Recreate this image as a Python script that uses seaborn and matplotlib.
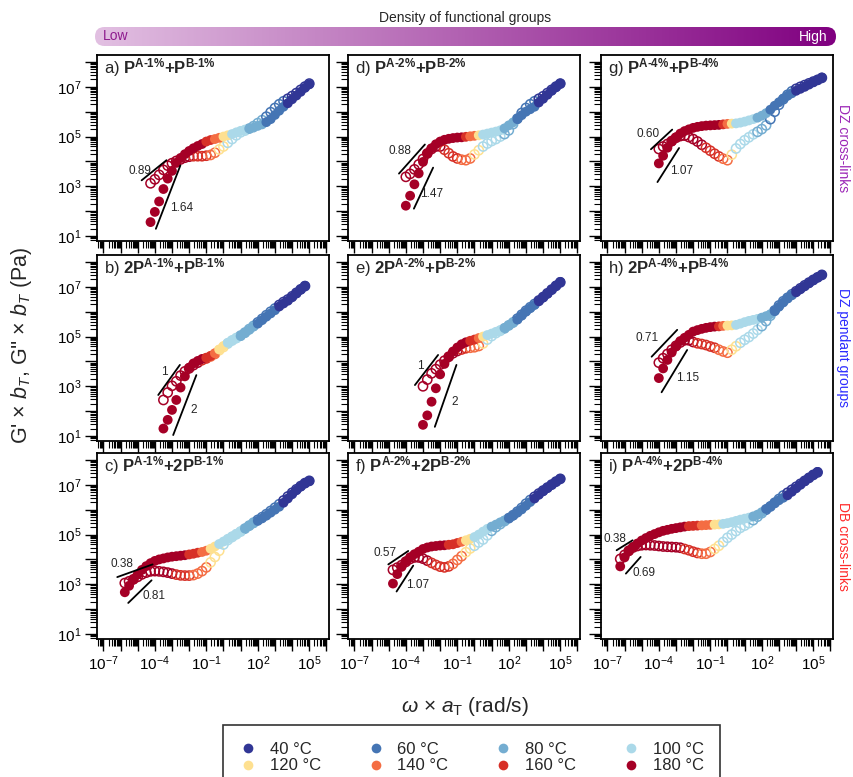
import numpy as np
import pandas as pd
import matplotlib
matplotlib.use("Agg")
import matplotlib.pyplot as plt
import seaborn as sns
from matplotlib.ticker import LogLocator, FuncFormatter, NullFormatter
from matplotlib.colors import LinearSegmentedColormap
from matplotlib.patches import FancyBboxPatch
from matplotlib.lines import Line2D

# ---------------- data ----------------
TEMPS = [40, 60, 80, 100, 120, 140, 160, 180]
TEMP_COLORS = ["#313695", "#4575b4", "#74add1", "#abd9e9",
               "#fee090", "#f46d43", "#d73027", "#a50026"]

# log10 of reduced angular frequency (rad/s) on which points are read
LOG_W = [-6.25, -6.0, -5.75, -5.5, -5.25, -5.0, -4.75, -4.5, -4.25, -4.0,
         -3.75, -3.5, -3.25, -3.0, -2.75, -2.5, -2.25, -2.0, -1.75, -1.5,
         -1.25, -1.0, -0.75, -0.5, -0.25, 0.0, 0.25, 0.5, 0.75, 1.0,
         1.25, 1.5, 1.75, 2.0, 2.25, 2.5, 2.75, 3.0, 3.25, 3.5,
         3.75, 4.0, 4.25, 4.5, 4.75, 5.0, 5.25, 5.5]

# first log10(omega) of each panel
START = {"a": -4.25, "b": -3.5, "c": -5.75, "d": -4.0, "e": -3.0,
         "f": -4.75, "g": -4.0, "h": -4.0, "i": -6.25}

# log10 G' (storage) and G'' (loss) per panel
GP_A = [1.56, 1.97, 2.39, 2.89, 3.31, 3.62, 3.94, 4.14, 4.29, 4.42,
        4.53, 4.62, 4.70, 4.80, 4.86, 4.90, 4.95, 5.00, 5.05, 5.10,
        5.17, 5.23, 5.28, 5.32, 5.36, 5.43, 5.49, 5.58, 5.70, 5.87,
        6.04, 6.20, 6.34, 6.50, 6.65, 6.80, 6.96, 7.10]
GPP_A = [3.12, 3.28, 3.46, 3.66, 3.83, 3.93, 4.02, 4.08, 4.15, 4.19,
         4.21, 4.21, 4.21, 4.23, 4.26, 4.35, 4.48, 4.60, 4.75, 4.90,
         5.05, 5.17, 5.24, 5.32, 5.42, 5.54, 5.66, 5.80, 5.98, 6.15,
         6.30, 6.42, 6.52, 6.63, 6.75, 6.88, 7.01, 7.13]
GP_B = [1.30, 1.65, 2.05, 2.45, 2.95, 3.40, 3.75, 3.92, 4.02, 4.10,
        4.15, 4.22, 4.33, 4.48, 4.62, 4.75, 4.85, 4.93, 5.02, 5.14,
        5.27, 5.40, 5.52, 5.66, 5.80, 5.93, 6.06, 6.21, 6.33, 6.44,
        6.58, 6.73, 6.89, 7.04]
GPP_B = [2.45, 2.75, 3.02, 3.20, 3.43, 3.60, 3.72, 3.85, 3.95, 4.05,
         4.12, 4.20, 4.30, 4.45, 4.58, 4.72, 4.84, 4.94, 5.04, 5.16,
         5.30, 5.43, 5.57, 5.71, 5.86, 6.00, 6.13, 6.27, 6.39, 6.49,
         6.62, 6.76, 6.90, 7.03]
GP_C = [2.68, 2.94, 3.19, 3.40, 3.58, 3.73, 3.85, 3.94, 4.00, 4.04,
        4.08, 4.11, 4.13, 4.15, 4.17, 4.20, 4.23, 4.27, 4.30, 4.35,
        4.43, 4.52, 4.62, 4.72, 4.83, 4.93, 5.03, 5.13, 5.24, 5.35,
        5.45, 5.55, 5.65, 5.76, 5.88, 6.00, 6.12, 6.28, 6.45, 6.62,
        6.78, 6.93, 7.06, 7.15]
GPP_C = [3.05, 3.12, 3.20, 3.30, 3.40, 3.47, 3.52, 3.53, 3.52, 3.50,
         3.47, 3.43, 3.39, 3.36, 3.35, 3.35, 3.37, 3.43, 3.53, 3.68,
         3.88, 4.10, 4.35, 4.60, 4.78, 4.90, 5.01, 5.12, 5.24, 5.36,
         5.48, 5.59, 5.70, 5.82, 5.95, 6.08, 6.22, 6.37, 6.53, 6.68,
         6.82, 6.95, 7.07, 7.16]
GP_D = [2.22, 2.62, 3.08, 3.52, 3.98, 4.32, 4.53, 4.69, 4.80, 4.87,
        4.91, 4.94, 4.96, 4.97, 4.99, 5.01, 5.03, 5.05, 5.08, 5.12,
        5.16, 5.20, 5.25, 5.33, 5.45, 5.57, 5.70, 5.86, 6.00, 6.10,
        6.20, 6.37, 6.52, 6.68, 6.84, 6.98, 7.13]
GPP_D = [3.38, 3.50, 3.68, 3.88, 4.10, 4.32, 4.50, 4.60, 4.60, 4.47,
         4.33, 4.20, 4.12, 4.07, 4.05, 4.12, 4.28, 4.45, 4.60, 4.72,
         4.82, 4.90, 5.00, 5.10, 5.25, 5.50, 5.72, 5.95, 6.15, 6.30,
         6.42, 6.52, 6.62, 6.75, 6.88, 7.01, 7.13]
GP_E = [1.45, 1.83, 2.38, 2.92, 3.48, 3.90, 4.18, 4.40, 4.56, 4.69,
        4.77, 4.83, 4.88, 4.94, 5.00, 5.06, 5.12, 5.19, 5.26, 5.34,
        5.45, 5.55, 5.68, 5.84, 6.00, 6.14, 6.27, 6.42, 6.57, 6.72,
        6.88, 7.04, 7.20]
GPP_E = [3.00, 3.27, 3.52, 3.69, 3.87, 4.03, 4.19, 4.33, 4.42, 4.48,
         4.53, 4.55, 4.57, 4.62, 4.72, 4.88, 5.02, 5.14, 5.23, 5.33,
         5.45, 5.57, 5.72, 5.88, 6.04, 6.18, 6.31, 6.45, 6.59, 6.74,
         6.89, 7.04, 7.18]
GP_F = [3.03, 3.41, 3.70, 3.93, 4.09, 4.21, 4.31, 4.42, 4.48, 4.52,
        4.54, 4.56, 4.57, 4.59, 4.61, 4.66, 4.71, 4.77, 4.83, 4.90,
        5.00, 5.12, 5.23, 5.32, 5.40, 5.49, 5.57, 5.66, 5.76, 5.88,
        6.01, 6.16, 6.31, 6.45, 6.60, 6.74, 6.87, 7.00, 7.12, 7.24]
GPP_F = [3.58, 3.67, 3.77, 3.90, 4.02, 4.08, 4.08, 4.03, 3.95, 3.86,
         3.78, 3.71, 3.68, 3.72, 3.82, 3.98, 4.13, 4.29, 4.44, 4.55,
         4.68, 4.80, 4.97, 5.15, 5.30, 5.42, 5.54, 5.66, 5.78, 5.92,
         6.07, 6.24, 6.39, 6.52, 6.65, 6.77, 6.89, 7.01, 7.13, 7.24]
GP_G = [3.92, 4.23, 4.55, 4.80, 4.97, 5.12, 5.22, 5.29, 5.35, 5.39,
        5.42, 5.44, 5.45, 5.46, 5.47, 5.49, 5.51, 5.52, 5.53, 5.56,
        5.60, 5.65, 5.70, 5.76, 5.84, 5.94, 6.08, 6.24, 6.38, 6.53,
        6.64, 6.74, 6.84, 6.92, 7.00, 7.09, 7.18, 7.27, 7.37]
GPP_G = [4.50, 4.60, 4.70, 4.82, 4.95, 5.02, 5.04, 4.98, 4.90, 4.80,
         4.67, 4.55, 4.43, 4.31, 4.20, 4.11, 4.05, 4.27, 4.52, 4.70,
         4.85, 4.97, 5.09, 5.19, 5.30, 5.45, 5.70, 6.00, 6.28, 6.50,
         6.68, 6.82, 6.92, 7.00, 7.07, 7.14, 7.21, 7.28, 7.36]
GP_H = [3.33, 3.72, 4.06, 4.36, 4.60, 4.82, 4.95, 5.07, 5.20, 5.26,
        5.31, 5.35, 5.38, 5.40, 5.41, 5.43, 5.44, 5.45, 5.47, 5.52,
        5.58, 5.63, 5.67, 5.71, 5.76, 5.82, 5.90, 6.02, 6.20, 6.37,
        6.53, 6.66, 6.78, 6.90, 7.02, 7.14, 7.26, 7.38, 7.48]
GPP_H = [3.95, 4.13, 4.30, 4.47, 4.63, 4.76, 4.85, 4.85, 4.78, 4.73,
         4.70, 4.66, 4.60, 4.55, 4.47, 4.40, 4.35, 4.47, 4.61, 4.75,
         4.87, 4.98, 5.12, 5.27, 5.42, 5.62, 5.84, 6.05, 6.25, 6.42,
         6.56, 6.70, 6.82, 6.94, 7.06, 7.17, 7.28, 7.38, 7.48]
GP_I = [3.72, 4.08, 4.33, 4.50, 4.64, 4.76, 4.86, 4.95, 5.02, 5.09,
        5.15, 5.19, 5.23, 5.26, 5.29, 5.32, 5.34, 5.35, 5.36, 5.37,
        5.38, 5.39, 5.40, 5.41, 5.43, 5.46, 5.50, 5.55, 5.60, 5.64,
        5.68, 5.73, 5.80, 5.90, 6.03, 6.14, 6.26, 6.38, 6.48, 6.58,
        6.72, 6.86, 7.00, 7.14, 7.28, 7.40, 7.52]
GPP_I = [4.02, 4.18, 4.35, 4.48, 4.54, 4.57, 4.58, 4.57, 4.56, 4.54,
         4.52, 4.51, 4.50, 4.49, 4.47, 4.42, 4.37, 4.31, 4.26, 4.23,
         4.23, 4.30, 4.42, 4.55, 4.70, 4.87, 5.00, 5.14, 5.27, 5.36,
         5.46, 5.58, 5.72, 5.86, 6.00, 6.13, 6.28, 6.43, 6.57, 6.68,
         6.80, 6.92, 7.04, 7.16, 7.28, 7.40, 7.50]

# log10(omega) where the measured temperature changes (180 -> 160 -> ... -> 40 C)
SEG_GP = {"a": [-1.2, -0.7, -0.2, 0.25, 1.3, 2.3, 3.7],
          "b": [-1.1, -0.65, -0.3, 0.0, 0.9, 1.9, 3.2],
          "c": [-2.1, -1.4, -0.8, -0.3, 1.1, 1.9, 3.3],
          "d": [-0.6, -0.3, 0.0, 0.3, 1.5, 2.4, 3.5],
          "e": [-0.3, 0.05, 0.35, 0.65, 1.6, 2.4, 3.6],
          "f": [-1.7, -1.0, -0.55, -0.15, 0.9, 1.85, 3.4],
          "g": [-0.5, -0.15, 0.15, 0.45, 1.6, 2.4, 3.9],
          "h": [-0.75, -0.45, -0.05, 0.4, 1.9, 2.65, 3.8],
          "i": [-2.3, -1.6, -0.9, -0.3, 1.4, 2.0, 3.4]}
SEG_GPP = {"a": [-2.0, -1.0, -0.3, 0.2, 1.3, 2.3, 3.7],
           "b": [-1.5, -0.8, -0.3, 0.0, 0.9, 1.9, 3.2],
           "c": [-3.0, -2.0, -0.8, -0.2, 1.1, 1.9, 3.3],
           "d": [-2.0, -0.8, -0.1, 0.3, 1.5, 2.4, 3.5],
           "e": [-0.9, -0.3, 0.3, 0.6, 1.6, 2.4, 3.6],
           "f": [-2.6, -1.5, -0.6, -0.2, 0.9, 1.85, 3.4],
           "g": [-1.5, -0.5, 0.1, 0.4, 1.6, 2.4, 3.9],
           "h": [-1.8, -0.6, 0.1, 0.5, 1.9, 2.65, 3.8],
           "i": [-2.6, -1.6, -0.8, -0.4, 1.4, 2.0, 3.4]}

# slope guides: (log w0, log G0, log w1, log G1, text, log w_text, log G_text)
SLOPES = {"a": [(-4.77, 3.24, -3.32, 4.05, "0.89", -4.87, 3.63),
                (-3.94, 1.29, -2.51, 3.84, "1.64", -2.45, 2.14)],
          "b": [(-3.80, 2.65, -2.54, 3.86, "1", -3.47, 3.59),
                (-2.93, 1.04, -1.58, 3.45, "2", -1.73, 2.04)],
          "c": [(-6.19, 3.29, -4.13, 3.80, "0.38", -5.90, 3.80),
                (-5.55, 2.25, -4.19, 3.16, "0.81", -4.06, 2.51)],
          "d": [(-4.40, 3.51, -2.89, 4.68, "0.88", -4.35, 4.42),
                (-3.53, 2.10, -2.41, 3.75, "1.47", -2.47, 2.68)],
          "e": [(-3.47, 3.05, -2.12, 4.26, "1", -3.15, 3.83),
                (-2.31, 1.37, -1.05, 3.86, "2", -1.15, 2.38)],
          "f": [(-5.02, 3.80, -3.86, 4.34, "0.57", -5.22, 4.24),
                (-4.54, 2.71, -3.57, 3.75, "1.07", -3.34, 2.97)],
          "g": [(-4.46, 4.49, -3.22, 5.28, "0.60", -4.64, 5.09),
                (-4.08, 3.17, -2.82, 4.54, "1.07", -2.68, 3.62)],
          "h": [(-4.42, 4.19, -2.93, 5.27, "0.71", -4.66, 4.93),
                (-3.84, 2.76, -2.35, 4.46, "1.15", -2.35, 3.35)],
          "i": [(-6.46, 4.37, -5.53, 4.77, "0.38", -6.54, 4.84),
                (-5.92, 3.43, -5.06, 4.10, "0.69", -4.87, 3.45)]}

GP = {"a": GP_A, "b": GP_B, "c": GP_C, "d": GP_D, "e": GP_E,
      "f": GP_F, "g": GP_G, "h": GP_H, "i": GP_I}
GPP = {"a": GPP_A, "b": GPP_B, "c": GPP_C, "d": GPP_D, "e": GPP_E,
       "f": GPP_F, "g": GPP_G, "h": GPP_H, "i": GPP_I}

PANEL_GRID = [["a", "d", "g"], ["b", "e", "h"], ["c", "f", "i"]]
DENSITY = ["1", "2", "4"]
ROW_PREFIX = [("", ""), ("2", ""), ("", "2")]
ROW_LABELS = ["DZ cross-links", "DZ pendant groups", "DB cross-links"]
ROW_LABEL_COLORS = ["#9b26b6", "#2a2aff", "#ff2a2a"]
XLABEL_EXP = [-7, -4, -1, 2, 5]
YLABEL_EXP = [1, 3, 5, 7]

# ---------------- style ----------------
sns.set_style("ticks")
plt.rcParams.update({
    "font.family": ["Liberation Sans", "DejaVu Sans"],
    "mathtext.fontset": "custom",
    "mathtext.rm": "Liberation Sans",
    "mathtext.it": "Liberation Sans:italic",
    "mathtext.bf": "Liberation Sans:bold",
    "axes.linewidth": 1.3,
    "axes.edgecolor": "black",
    "xtick.color": "black",
    "ytick.color": "black",
})

W, H = 854, 777
fig = plt.figure(figsize=(W / 100, H / 100), dpi=100)


def px_axes(left, top, width, height):
    return fig.add_axes([left / W, 1 - (top + height) / H, width / W, height / H])


COL_LEFT = [97, 348, 601]
ROW_TOP = [55, 255, 453]
PW, PH = 232, 186
XLIM = (10 ** -7.37, 10 ** 6.15)
YLIM = (10 ** 0.8, 10 ** 8.28)
PALETTE = dict(zip(TEMPS, TEMP_COLORS))
TEMPS_DESC = TEMPS[::-1]


def temp_of(lx, bounds):
    idx = np.searchsorted(np.array(bounds), np.array(lx))
    return [TEMPS_DESC[k] for k in idx]


def fmt_factory(keep):
    def f(v, pos):
        e = int(round(np.log10(v)))
        return r"$10^{%d}$" % e if e in keep else ""
    return FuncFormatter(f)


for r in range(3):
    for c in range(3):
        key = PANEL_GRID[r][c]
        ax = px_axes(COL_LEFT[c], ROW_TOP[r], PW, PH)
        i0 = LOG_W.index(START[key])
        lx = LOG_W[i0:i0 + len(GP[key])]
        df_gpp = pd.DataFrame({"w": 10 ** np.array(lx), "G": 10 ** np.array(GPP[key]),
                               "T": temp_of(lx, SEG_GPP[key])})
        df_gp = pd.DataFrame({"w": 10 ** np.array(lx), "G": 10 ** np.array(GP[key]),
                              "T": temp_of(lx, SEG_GP[key])})
        # loss modulus: open circles
        sns.scatterplot(data=df_gpp, x="w", y="G", hue="T", palette=PALETTE,
                        hue_order=TEMPS, s=44, linewidth=1.1, legend=False, ax=ax)
        coll = ax.collections[-1]
        fcs = coll.get_facecolors()
        coll.set_edgecolors(fcs)
        coll.set_facecolors("none")
        # storage modulus: filled circles
        sns.scatterplot(data=df_gp, x="w", y="G", hue="T", palette=PALETTE,
                        hue_order=TEMPS, s=50, edgecolor="none", legend=False, ax=ax)

        for (x0, y0, x1, y1, txt, tx, ty) in SLOPES[key]:
            ax.plot([10 ** x0, 10 ** x1], [10 ** y0, 10 ** y1], color="black", lw=1.3)
            ax.text(10 ** tx, 10 ** ty, txt, fontsize=8.5, ha="center", va="center")

        ax.set_xscale("log")
        ax.set_yscale("log")
        ax.set_xlim(XLIM)
        ax.set_ylim(YLIM)
        ax.set_xlabel("")
        ax.set_ylabel("")
        for axis in (ax.xaxis, ax.yaxis):
            axis.set_major_locator(LogLocator(base=10, numticks=40))
            axis.set_minor_locator(LogLocator(base=10, subs=np.arange(2, 10), numticks=40))
            axis.set_minor_formatter(NullFormatter())
        ax.xaxis.set_major_formatter(fmt_factory(XLABEL_EXP))
        ax.yaxis.set_major_formatter(fmt_factory(YLABEL_EXP))
        ax.tick_params(which="major", direction="out", length=8.5, width=1.0,
                       top=False, right=False, labelsize=11, pad=2.5,
                       labelbottom=(r == 2), labelleft=(c == 0))
        ax.tick_params(which="minor", direction="out", length=5, width=0.8,
                       top=False, right=False)

        d = DENSITY[c]
        p1, p2 = ROW_PREFIX[r]
        title = (r"%s) $\mathbf{%sP}^{\mathbf{A‐%s\%%}}\mathbf{+%sP}^{\mathbf{B‐%s\%%}}$"
                 % (key, p1, d, p2, d))
        ax.text(0.03, 0.935, title, transform=ax.transAxes, fontsize=12,
                ha="left", va="center")

# right-hand row labels
for r in range(3):
    fig.text(843 / W, 1 - (ROW_TOP[r] + PH / 2) / H, ROW_LABELS[r], rotation=270,
             ha="center", va="center", fontsize=10, color=ROW_LABEL_COLORS[r])

# axis labels
fig.text(22 / W, 1 - 345 / H, r"G' × $b_T$, G'' × $b_T$ (Pa)", rotation=90,
         ha="center", va="center", fontsize=15.5)
fig.text(465 / W, 1 - 707 / H, r"$\omega$ × $a_{\rm T}$ (rad/s)",
         ha="center", va="center", fontsize=15)

# top gradient bar
fig.text(465 / W, 1 - 18 / H, "Density of functional groups", ha="center",
         va="center", fontsize=10)
bax = px_axes(95, 27, 741, 19)
bax.set_xlim(0, 741)
bax.set_ylim(0, 19)
bax.axis("off")
BAR_CMAP = LinearSegmentedColormap.from_list("bar", ["#e2c0e2", "#800080"])
im = bax.imshow(np.linspace(0, 1, 256)[None, :], extent=(0, 741, 0, 19),
                aspect="auto", cmap=BAR_CMAP)
patch = FancyBboxPatch((0, 0), 741, 19, boxstyle="round,pad=0,rounding_size=9.5",
                       transform=bax.transData, fc="none", ec="none")
bax.add_patch(patch)
im.set_clip_path(patch)
bax.text(8, 9.5, "Low", color="#8e1b8e", fontsize=10, ha="left", va="center")
bax.text(733, 9.5, "High", color="white", fontsize=10, ha="right", va="center")

# legend (row-wise order)
order = [0, 4, 1, 5, 2, 6, 3, 7]
handles = [Line2D([], [], marker="o", linestyle="", markersize=7,
                  markerfacecolor=TEMP_COLORS[k], markeredgecolor="none") for k in order]
labels = ["%d °C" % TEMPS[k] for k in order]
leg = fig.legend(handles, labels, ncol=4, loc="upper left",
                 bbox_to_anchor=(223 / W, 1 - 725 / H), borderaxespad=0.0,
                 frameon=True, fancybox=False,
                 edgecolor="black", fontsize=12, handlelength=1.0, handletextpad=0.8,
                 columnspacing=2.8, borderpad=1.0, labelspacing=0.1)
leg.get_frame().set_linewidth(1.2)

fig.savefig("out.png", dpi=100)
